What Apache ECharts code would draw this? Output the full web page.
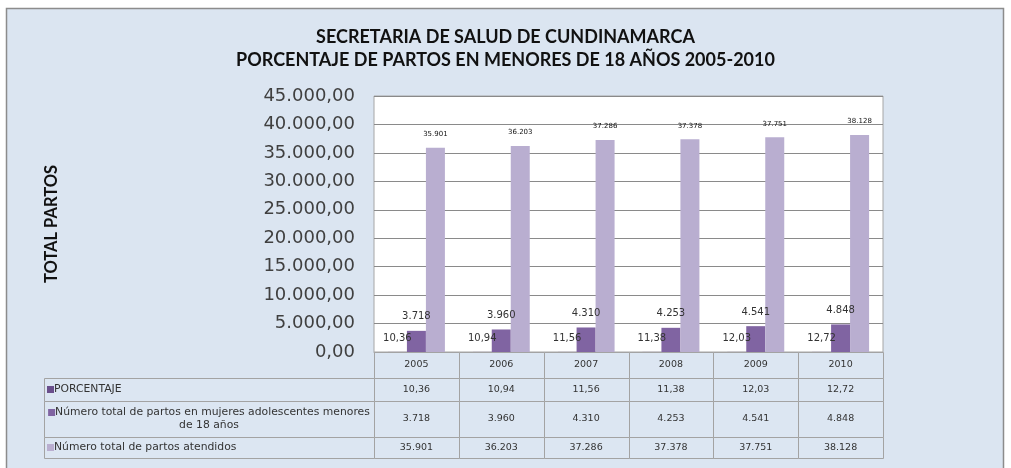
<!DOCTYPE html>
<html>
<head>
<meta charset="utf-8">
<script src="https://cdn.jsdelivr.net/npm/echarts@6/dist/echarts.min.js"></script>
<style>
  html, body { margin: 0; padding: 0; background: #fff; }
  #chart { width: 1011px; height: 468px; }
</style>
</head>
<body>
<div id="chart"></div>
<script>
// datos
const years = ['2005', '2006', '2007', '2008', '2009', '2010'];
const porcentaje = [10.36, 10.94, 11.56, 11.38, 12.03, 12.72];
const adolescentes = [3718, 3960, 4310, 4253, 4541, 4848];
const atendidos = [35901, 36203, 37286, 37378, 37751, 38128];
const seriesNames = [
  'PORCENTAJE',
  'Número total de partos en mujeres adolescentes menores\nde 18 años',
  'Número total de partos atendidos'
];
const yMax = 45000;
const yStep = 5000;

const colors = ['#6a4f8c', '#8064a2', '#b9aed0'];

const fmtInt = v => String(Math.round(v)).replace(/\B(?=(\d{3})+(?!\d))/g, '.');
const fmtDec = v => v.toFixed(2).replace('.', ',');

// tabla de datos (layout)
const rowEdges = [0, 26, 49, 85, 106];
const labelColW = 330;
const cells = [];
years.forEach((y, i) => cells.push({ col: i, row: 0, text: y }));
const rowsData = [porcentaje.map(fmtDec), adolescentes.map(fmtInt), atendidos.map(fmtInt)];
rowsData.forEach((vals, r) => {
  cells.push({ col: -1, row: r + 1, text: seriesNames[r], color: colors[r] });
  vals.forEach((t, i) => cells.push({ col: i, row: r + 1, text: t }));
});

const chart = echarts.init(document.getElementById('chart'));

chart.setOption({
  backgroundColor: '#fff',
  animation: false,
  graphic: [{
    type: 'rect',
    z: -100,
    shape: { x: 6.5, y: 8.5, width: 997, height: 470 },
    style: { fill: '#dbe5f1', stroke: '#8c8c8c', lineWidth: 1.5 }
  }],
  title: {
    text: 'SECRETARIA DE SALUD DE CUNDINAMARCA\nPORCENTAJE DE PARTOS EN MENORES DE 18 AÑOS 2005-2010',
    left: 'center',
    top: 21,
    textStyle: {
      fontFamily: 'Lato',
      fontWeight: 'bold',
      fontSize: 18,
      lineHeight: 23,
      color: '#111'
    }
  },
  grid: [
    { left: 374, right: 128, top: 96, bottom: 116, show: true, backgroundColor: '#fff', borderColor: '#a6a6a6', borderWidth: 1 },
    { left: 374, right: 128, top: 352, height: 106 }
  ],
  xAxis: [
    {
      type: 'category', data: years, gridIndex: 0,
      axisLabel: { show: false }, axisTick: { show: false },
      axisLine: { lineStyle: { color: '#a6a6a6' } }
    },
    { type: 'category', data: years, gridIndex: 1, show: false }
  ],
  yAxis: [
    {
      type: 'value', gridIndex: 0, min: 0, max: yMax, interval: yStep,
      name: 'TOTAL PARTOS', nameLocation: 'middle', nameRotate: 90, nameGap: 314,
      nameTextStyle: { fontFamily: 'Lato', fontWeight: 'bold', fontSize: 16.5, color: '#111' },
      axisLine: { show: false }, axisTick: { show: false },
      axisLabel: {
        margin: 19, fontFamily: 'DejaVu Sans', fontSize: 18, color: '#404040',
        formatter: v => fmtInt(v) + ',00'
      },
      splitLine: { lineStyle: { color: '#8a8a8a', width: 1 } }
    },
    { type: 'value', gridIndex: 1, min: 0, max: 106, inverse: true, show: false }
  ],
  series: [
    {
      name: 'PORCENTAJE', type: 'bar', data: porcentaje,
      barWidth: 19, barGap: '0%',
      itemStyle: { color: colors[0] },
      label: {
        show: true, position: 'top', distance: 9,
        fontFamily: 'DejaVu Sans', fontSize: 10, color: '#333',
        formatter: p => fmtDec(p.value)
      }
    },
    {
      name: 'adolescentes', type: 'bar', data: adolescentes,
      barWidth: 19, barGap: '0%',
      itemStyle: { color: colors[1] },
      label: {
        show: true, position: 'top', distance: 9,
        fontFamily: 'DejaVu Sans', fontSize: 10, color: '#333',
        formatter: p => fmtInt(p.value)
      }
    },
    {
      name: 'atendidos', type: 'bar', data: atendidos,
      barWidth: 19, barGap: '0%',
      itemStyle: { color: colors[2] },
      label: {
        show: true, position: 'top', distance: 10,
        fontFamily: 'DejaVu Sans', fontSize: 7, color: '#111',
        formatter: p => fmtInt(p.value)
      }
    },
    {
      type: 'custom',
      xAxisIndex: 1, yAxisIndex: 1,
      clip: false,
      silent: true,
      data: cells.map(c => [Math.max(c.col, 0), c.row]),
      renderItem: (params, api) => {
        const cell = cells[params.dataIndex];
        const w = api.size([1, 0])[0];
        const y0 = api.coord([0, rowEdges[cell.row]])[1];
        const y1 = api.coord([0, rowEdges[cell.row + 1]])[1];
        let x0, x1;
        if (cell.col < 0) {
          x1 = api.coord([0, 0])[0] - w / 2;
          x0 = x1 - labelColW;
        } else {
          const cx = api.coord([cell.col, 0])[0];
          x0 = cx - w / 2;
          x1 = cx + w / 2;
        }
        const rect = {
          type: 'rect',
          shape: { x: Math.round(x0) + 0.5, y: Math.round(y0) + 0.5, width: Math.round(x1 - x0), height: Math.round(y1 - y0) },
          style: { fill: '#dce6f2', stroke: '#a3a3a3', lineWidth: 1 }
        };
        let text;
        if (cell.col < 0) {
          const multi = cell.text.indexOf('\n') >= 0;
          text = {
            type: 'text',
            style: {
              text: '{sq|}' + cell.text,
              x: multi ? (x0 + x1) / 2 : x0 + 3,
              y: (y0 + y1) / 2,
              align: multi ? 'center' : 'left',
              verticalAlign: 'middle',
              font: '10.8px "DejaVu Sans"',
              fill: '#333',
              lineHeight: 13,
              rich: {
                sq: { backgroundColor: cell.color, width: 7, height: 7, padding: 0 }
              }
            }
          };
        } else {
          text = {
            type: 'text',
            style: {
              text: cell.text,
              x: (x0 + x1) / 2,
              y: (y0 + y1) / 2,
              align: 'center',
              verticalAlign: 'middle',
              font: '9.5px "DejaVu Sans"',
              fill: '#333'
            }
          };
        }
        return { type: 'group', children: [rect, text] };
      }
    }
  ]
});
</script>
</body>
</html>
